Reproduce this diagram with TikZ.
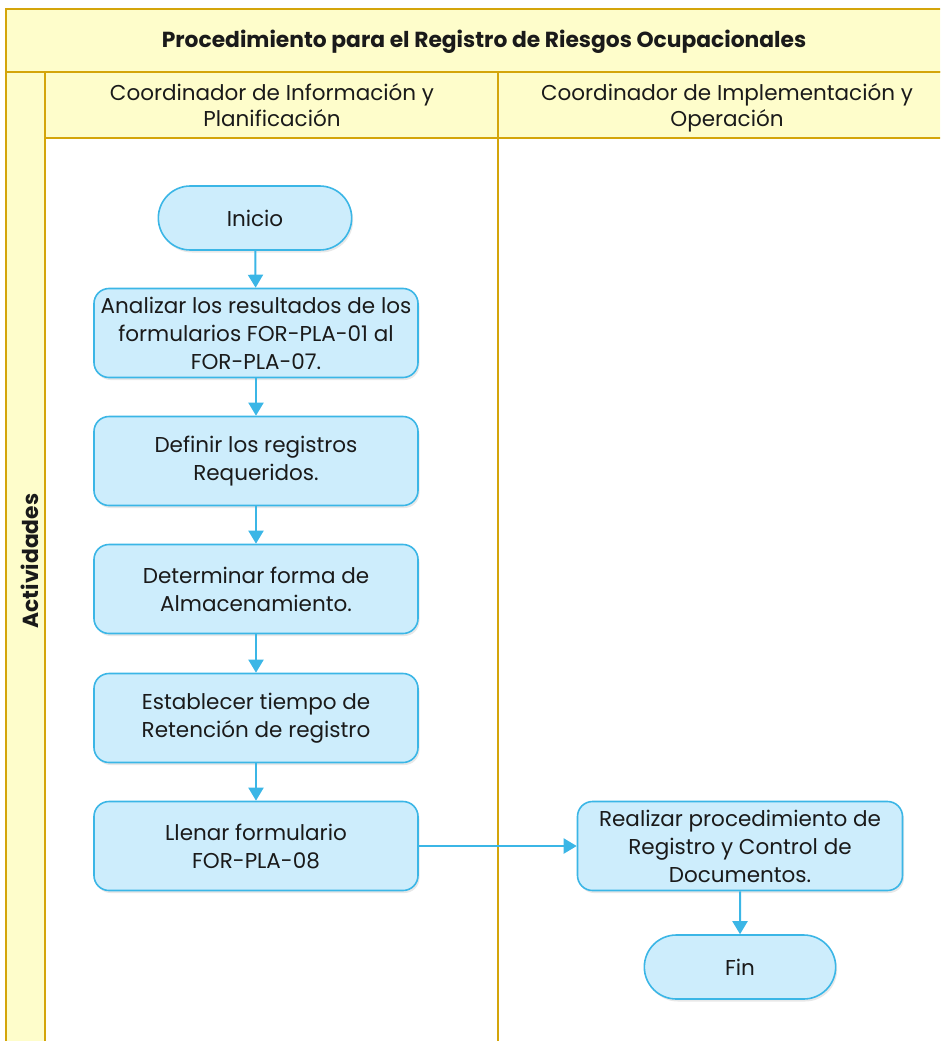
\documentclass[tikz,border=0pt]{standalone}
\usepackage{fontspec}
\setmainfont{Poppins}
\usetikzlibrary{arrows.meta,shapes.misc,shadows}
\definecolor{laneyellow}{HTML}{FEFDCB}
\definecolor{laneborder}{HTML}{D4A50A}
\definecolor{boxfill}{HTML}{CDEDFC}
\definecolor{boxline}{HTML}{3BB6E6}
\definecolor{inkdark}{HTML}{1A1A1A}
\tikzset{
  x=1pt, y=-1pt,
  lanebox/.style={draw=laneborder, line width=2pt, fill=laneyellow},
  laneline/.style={draw=laneborder, line width=2pt},
  boxshadow/.style={drop shadow={opacity=0.18, shadow xshift=1.5pt, shadow yshift=-2.5pt}},
  procbox/.style={draw=boxline, line width=1.6pt, fill=boxfill, rounded corners=15pt,
    minimum width=324pt, minimum height=89pt, align=center, text=inkdark,
    font=\fontsize{21.5}{28}\selectfont, inner sep=2pt, boxshadow},
  termbox/.style={draw=boxline, line width=1.6pt, fill=boxfill, rounded rectangle,
    minimum width=200pt, minimum height=64pt, align=center, text=inkdark,
    font=\fontsize{21.5}{28}\selectfont, boxshadow},
  flow/.style={draw=boxline, line width=2pt, -{Triangle[length=13pt,width=15pt]}},
  headtext/.style={align=center, text=inkdark, font=\fontsize{21.5}{26}\selectfont},
  bandtext/.style={text=inkdark, font=\bfseries\fontsize{21.8}{24}\selectfont},
}
\begin{document}
\begin{tikzpicture}
\useasboundingbox (0,0) rectangle (940,1041);
\clip (0,0) rectangle (940,1041);
% pool frame and title band
\path[lanebox] (6,9) rectangle (960,72);
\node[bandtext] (title) at (484,42)
  {Procedimiento para el Registro de Riesgos Ocupacionales};
% side band
\path[lanebox] (6,72) rectangle (45,1060);
\node[bandtext, rotate=90] (side) at (30,561) {Actividades};
% lane headers
\path[lanebox] (45,72) rectangle (498,138);
\path[lanebox] (498,72) rectangle (960,138);
\node[headtext] (lane1) at (272,108) {Coordinador de Información y\\Planificación\vphantom{p}};
\node[headtext] (lane2) at (727,108) {Coordinador de Implementación y\\Operación};
% lane separator
\draw[laneline] (498,138) -- (498,1060);
% flow nodes
\node[termbox] (inicio) at (255,218) {Inicio};
\node[procbox] (analizar) at (256,333) {Analizar los resultados de los\\formularios FOR-PLA-01 al\\FOR-PLA-07.};
\node[procbox] (definir) at (256,461) {Definir los registros\\Requeridos.};
\node[procbox] (determinar) at (256,589) {Determinar forma de\\Almacenamiento.};
\node[procbox] (establecer) at (256,718) {Establecer tiempo de\\Retención de registro};
\node[procbox] (llenar) at (256,846) {Llenar formulario\\FOR-PLA-08};
\node[procbox, minimum width=325pt] (realizar) at (740,846) {Realizar procedimiento de\\Registro y Control de\\Documentos.};
\node[termbox, minimum width=198pt] (fin) at (740,967) {Fin};
% connectors
\draw[flow] (inicio) -- (analizar);
\draw[flow] (analizar) -- (definir);
\draw[flow] (definir) -- (determinar);
\draw[flow] (determinar) -- (establecer);
\draw[flow] (establecer) -- (llenar);
\draw[flow] (llenar) -- (realizar);
\draw[flow] (realizar) -- (fin);
\end{tikzpicture}
\end{document}
